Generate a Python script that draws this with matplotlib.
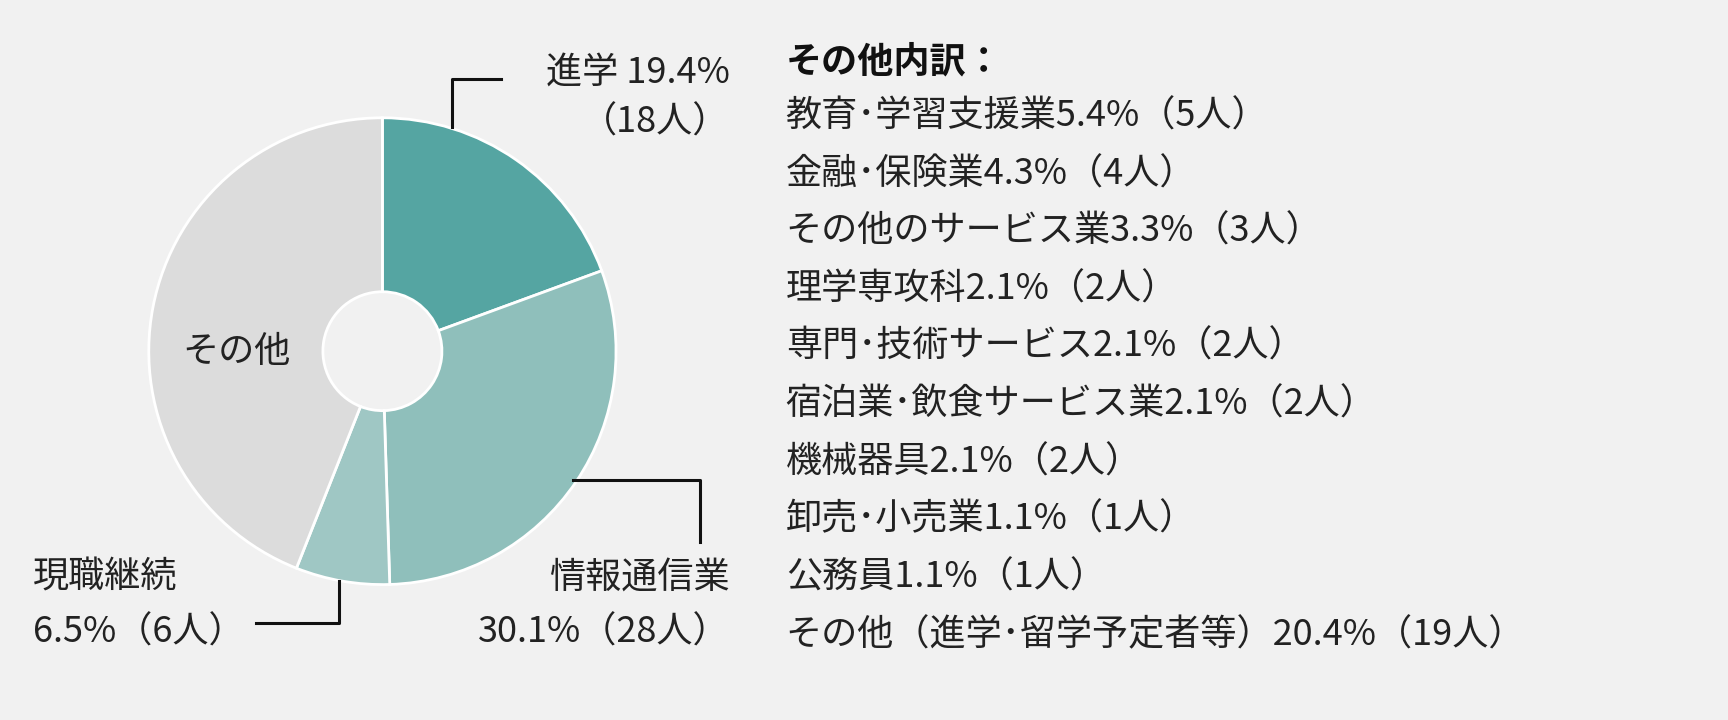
import matplotlib.pyplot as plt

plt.rcParams["font.family"] = "Noto Sans CJK JP"

labels = ["進学", "情報通信業", "現職継続", "その他"]
shares = [19.4, 30.1, 6.5, 44.0]
colors = ["#55a5a2", "#8fbfbb", "#9fc7c4", "#dcdcdc"]

other_items = [
    "教育･学習支援業5.4%（5人）",
    "金融･保険業4.3%（4人）",
    "その他のサービス業3.3%（3人）",
    "理学専攻科2.1%（2人）",
    "専門･技術サービス2.1%（2人）",
    "宿泊業･飲食サービス業2.1%（2人）",
    "機械器具2.1%（2人）",
    "卸売･小売業1.1%（1人）",
    "公務員1.1%（1人）",
    "その他（進学･留学予定者等）20.4%（19人）",
]

W, H = 1568, 654  # reference pixel frame
BG = "#f1f1f1"
fig = plt.figure(figsize=(17.28, 7.2), dpi=100, facecolor=BG)

cx, cy, r = 347, 319, 212
ax = fig.add_axes([(cx - r) / W, 1 - (cy + r) / H, 2 * r / W, 2 * r / H])
ax.set_facecolor(BG)
ax.pie(shares, colors=colors, startangle=90, counterclock=False,
       wedgeprops=dict(edgecolor="white", linewidth=2, width=1 - 54 / 212))
ax.set_xlim(-1, 1)
ax.set_ylim(-1, 1)
ax.set_aspect("auto")
ax.axis("off")


def fx(x):
    return x / W


def fy(y):
    return 1 - y / H


fs = 26
tc = "#222222"


def line(xs, ys):
    fig.add_artist(plt.Line2D([fx(x) for x in xs], [fy(y) for y in ys],
                              color="#111111", lw=2.2))


line([410, 410, 455], [115, 72, 72])
line([520, 635, 635], [436, 436, 492])
line([308, 308, 232], [528, 566, 566])

fig.text(fx(662), fy(66), "進学 19.4%", ha="right", va="center", fontsize=fs, color=tc)
fig.text(fx(662), fy(111), "（18人）", ha="right", va="center", fontsize=fs, color=tc)
fig.text(fx(662), fy(525), "情報通信業", ha="right", va="center", fontsize=fs, color=tc)
fig.text(fx(662), fy(575), "30.1%（28人）", ha="right", va="center", fontsize=fs, color=tc)
fig.text(fx(30), fy(525), "現職継続", ha="left", va="center", fontsize=fs, color=tc)
fig.text(fx(30), fy(575), "6.5%（6人）", ha="left", va="center", fontsize=fs, color=tc)
fig.text(fx(215), fy(320), "その他", ha="center", va="center", fontsize=fs, color=tc)

fig.text(fx(713), fy(56), "その他内訳：", ha="left", va="center",
         fontsize=fs, color="#111111", fontweight="bold")
for i, item in enumerate(other_items):
    fig.text(fx(713), fy(106 + i * 52.3), item, ha="left", va="center",
             fontsize=fs, color=tc)

fig.savefig("out.png", dpi=100, facecolor=BG)
